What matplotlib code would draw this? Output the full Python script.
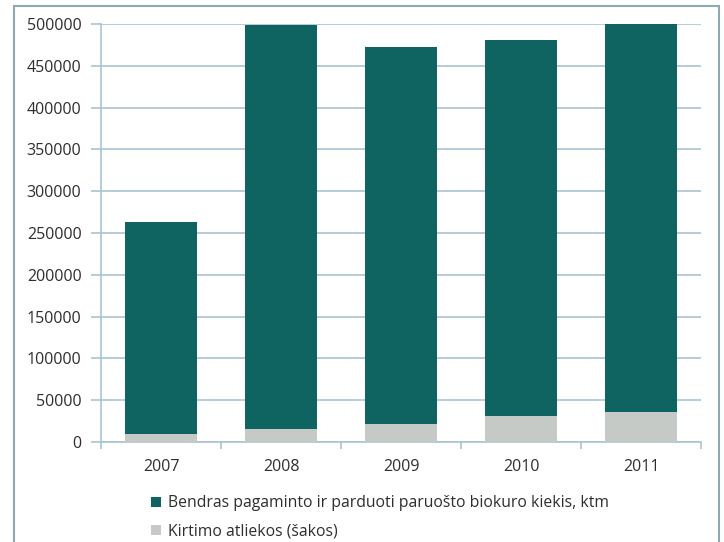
import matplotlib
matplotlib.use("Agg")
import matplotlib.pyplot as plt
import numpy as np
from matplotlib.patches import Rectangle, Patch

years = ["2007", "2008", "2009", "2010", "2011"]
total = [263000, 499000, 473000, 481000, 505000]
branches = [10000, 16000, 22000, 31000, 35500]
label_total = "Bendras pagaminto ir parduoti paruošto biokuro kiekis, ktm"
label_branches = "Kirtimo atliekos (šakos)"

teal = "#0f6462"
grey = "#c6cac6"
grid_col = "#a9c4d0"
text_col = "#2e2e2e"

plt.rcParams['font.family'] = ['Open Sans', 'DejaVu Sans']

fig = plt.figure(figsize=(7.24, 5.42), dpi=100)
fig.patch.set_facecolor("white")

# outer chart frame
fig.patches.append(Rectangle((14 / 724, -0.02), (719 - 14) / 724, (542 - 6) / 542 + 0.02,
                             transform=fig.transFigure, fill=False,
                             edgecolor="#8fa8b4", linewidth=1.5))

ax = fig.add_axes([101 / 724, 100 / 542, 600 / 724, 418 / 542])
x = np.arange(len(years))
bar_top = [t - b for t, b in zip(total, branches)]
ax.bar(x, branches, width=0.6, color=grey, zorder=3)
ax.bar(x, bar_top, bottom=branches, width=0.6, color=teal, zorder=3)

ax.set_xlim(-0.5, len(years) - 0.5)
ax.set_ylim(0, 500000)
ax.set_yticks(np.arange(0, 500001, 50000))
ax.yaxis.grid(True, color=grid_col, linewidth=1.2, zorder=0)
ax.tick_params(axis='y', length=7, color=grid_col, width=1.2,
               labelsize=11.5, labelcolor=text_col, pad=7)
ax.set_xticks(x)
ax.set_xticklabels(years)
ax.tick_params(axis='x', length=0, labelsize=11.5, labelcolor=text_col, pad=12)
ax.set_xticks(np.arange(-0.5, len(years) + 0.5, 1), minor=True)
ax.tick_params(axis='x', which='minor', length=5, color=grid_col, width=1.2)
for s in ['top', 'right']:
    ax.spines[s].set_visible(False)
for s in ['left', 'bottom']:
    ax.spines[s].set_color(grid_col)
    ax.spines[s].set_linewidth(1.2)

handles = [Patch(facecolor=teal, label=label_total),
           Patch(facecolor=grey, label=label_branches)]
leg = fig.legend(handles=handles, loc='upper left',
                 bbox_to_anchor=(137 / 724, (542 - 481) / 542),
                 frameon=False, fontsize=11.3, handlelength=0.6, handleheight=0.6,
                 handletextpad=0.5, labelspacing=0.8)
for t in leg.get_texts():
    t.set_color(text_col)

fig.savefig("out.png", dpi=100)
